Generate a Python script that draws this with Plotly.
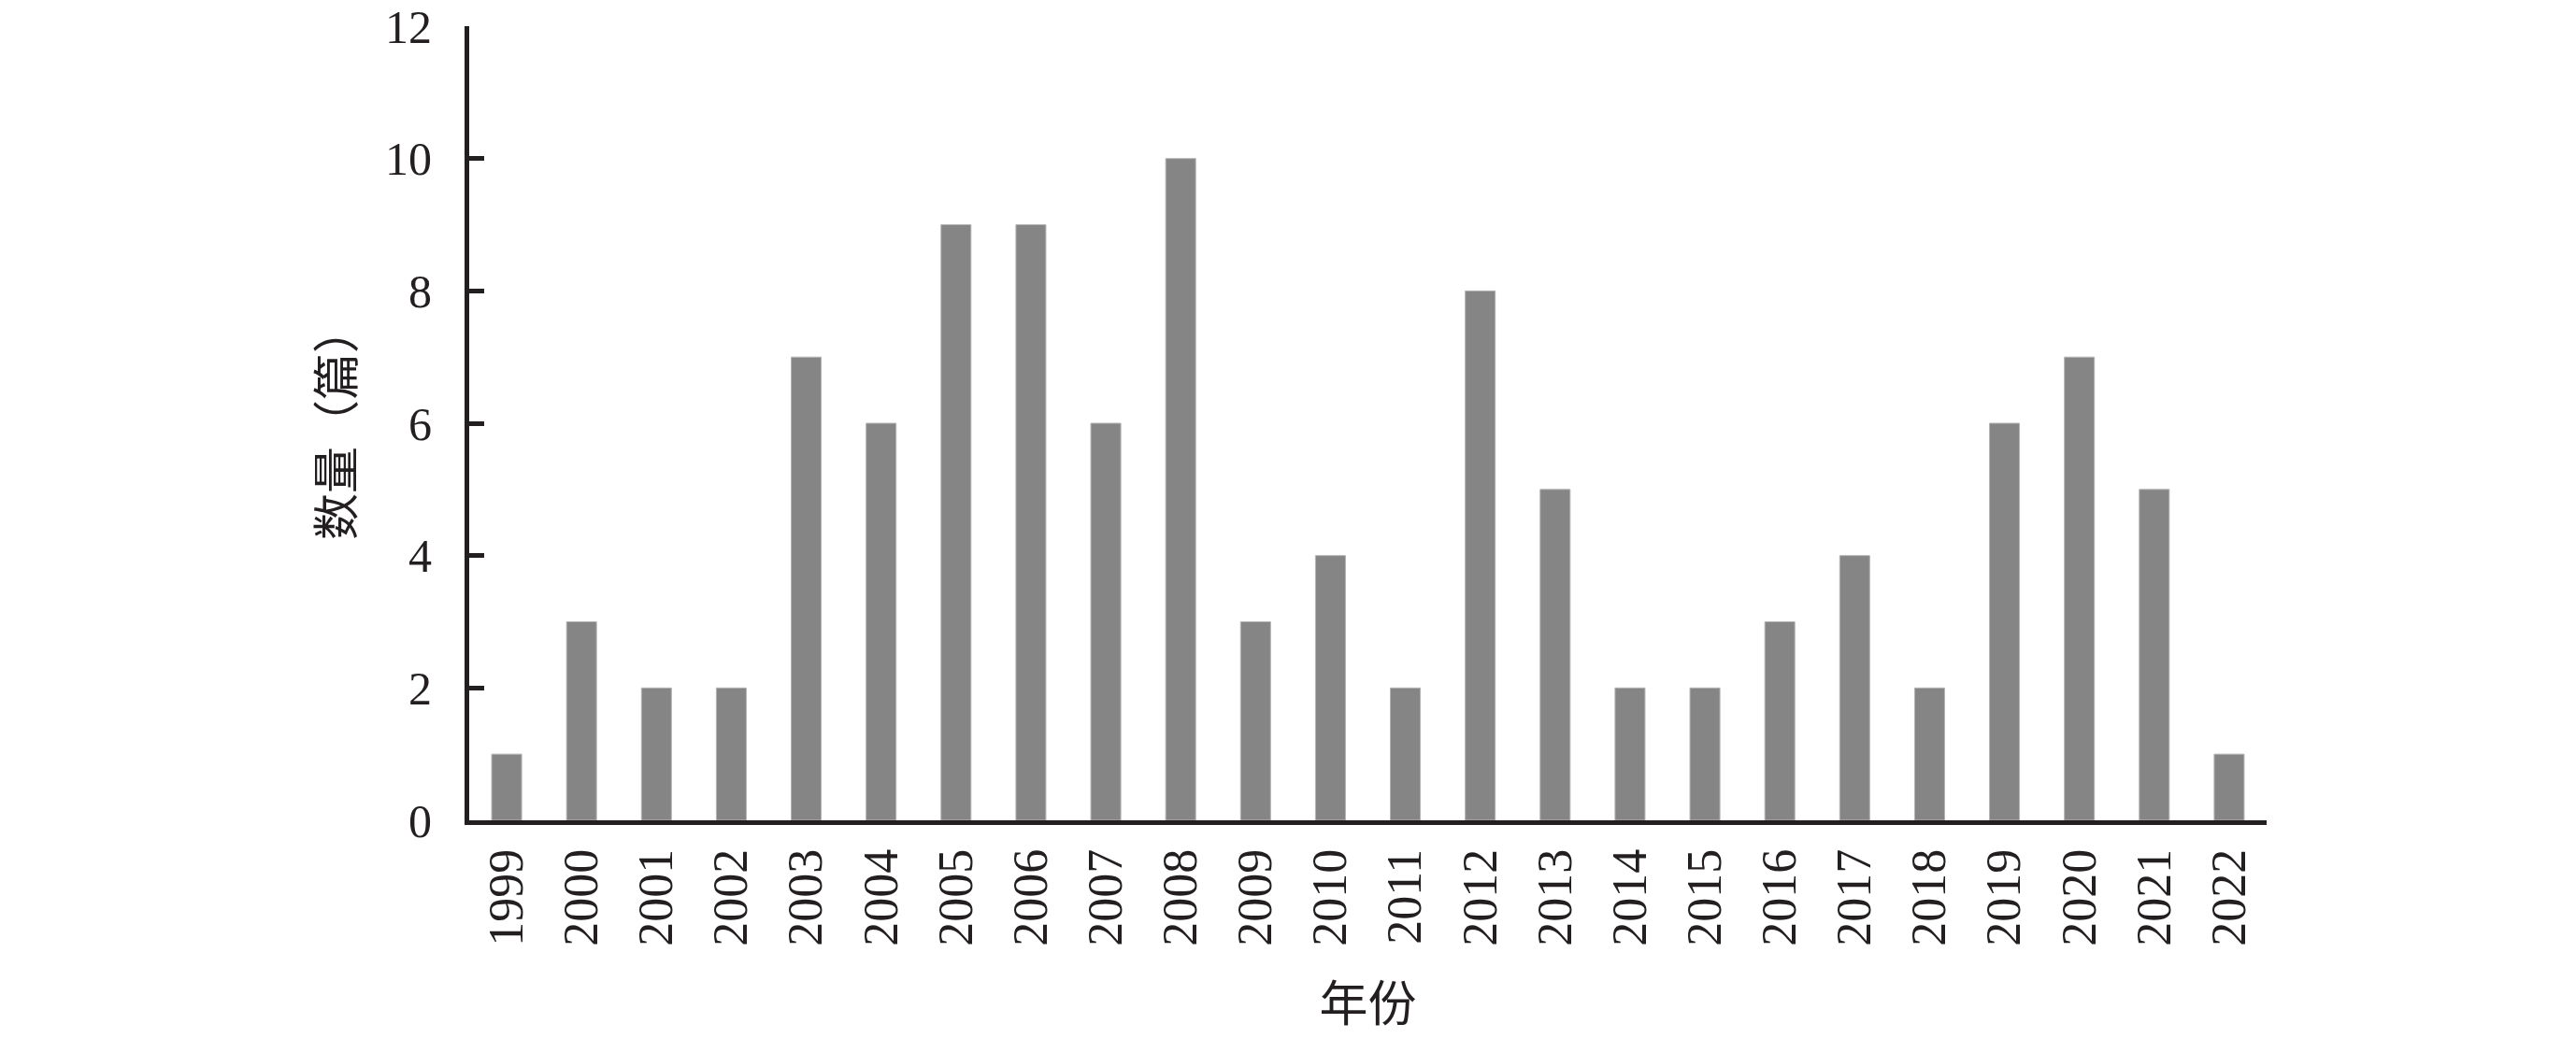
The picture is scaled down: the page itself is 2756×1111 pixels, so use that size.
import plotly.graph_objects as go

years = ["1999", "2000", "2001", "2002", "2003", "2004", "2005", "2006", "2007", "2008",
         "2009", "2010", "2011", "2012", "2013", "2014", "2015", "2016", "2017", "2018",
         "2019", "2020", "2021", "2022"]
counts = [1, 3, 2, 2, 7, 6, 9, 9, 6, 10, 3, 4, 2, 8, 5, 2, 2, 3, 4, 2, 6, 7, 5, 1]
y_ticks = [0, 2, 4, 6, 8, 10, 12]

SERIF = "Liberation Serif, Times New Roman, serif"
CJK = "Noto Sans CJK SC"
AX = "#231f20"

fig = go.Figure(go.Bar(
    x=years, y=counts,
    marker=dict(color="#868586", line=dict(color="#b5b4b5", width=1)),
))

fig.update_layout(
    width=2756, height=1111,
    paper_bgcolor="white", plot_bgcolor="white",
    margin=dict(l=502, r=331, t=28, b=233, autoexpand=False),
    bargap=0.6,
    showlegend=False,
    font=dict(family=SERIF, color=AX, size=50),
)
fig.update_xaxes(
    type="category", automargin=False,
    showline=True, linecolor=AX, linewidth=5,
    showgrid=False, ticks="",
    tickangle=-90,
    tickfont=dict(family=SERIF, size=52, color=AX),
    ticklabelstandoff=5,
    ticklabeloverflow="allow",
    title=dict(text="年份", font=dict(family=CJK, size=52, color=AX), standoff=46),
)
fig.update_yaxes(
    range=[0, 12.0005], tickvals=y_ticks, automargin=False,
    showline=True, linecolor=AX, linewidth=5,
    showgrid=False, zeroline=False,
    ticks="inside", ticklen=16, tickwidth=5, tickcolor=AX,
    tickfont=dict(family=SERIF, size=50, color=AX),
    ticklabelstandoff=25,
    ticklabeloverflow="allow",
    title=dict(text="数量（篇）", font=dict(family=CJK, size=50, color=AX), standoff=19),
)

fig.write_html(
    "out.html",
    config={"displayModeBar": False},
    post_script="document.body.style.margin='0';document.body.style.overflow='hidden';",
)
